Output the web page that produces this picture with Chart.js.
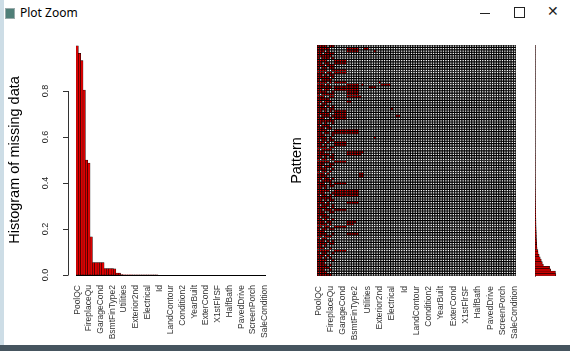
<!DOCTYPE html>
<html>
<head>
<meta charset="utf-8">
<script src="https://cdn.jsdelivr.net/npm/chart.js@4.4.1/dist/chart.umd.min.js"></script>
<style>
  body { margin: 0; width: 570px; height: 351px; overflow: hidden; background: #fff; position: relative; }
  canvas { position: absolute; }
  .bar-title { position: absolute; left: 20px; top: 4px; font: 12px "Noto Sans", sans-serif; color: #000; }
  .app-icon { position: absolute; left: 5px; top: 8px; width: 8px; height: 9px; background: #4f7f78; border: 1px solid #9aa; }
  .btn-min { position: absolute; left: 480px; top: 13px; width: 10px; height: 1px; background: #222; }
  .btn-max { position: absolute; left: 514px; top: 7px; width: 9px; height: 9px; border: 1px solid #222; }
  .btn-close { position: absolute; left: 547px; top: 3px; font: 14px "DejaVu Sans", sans-serif; color: #222; }
  .edge-left { position: absolute; left: 0; top: 0; width: 4px; height: 351px; background: #cddde6; }
  .edge-bottom { position: absolute; left: 0; top: 345px; width: 570px; height: 6px; background: #46555f; }
</style>
</head>
<body>
<div class="app-icon"></div>
<div class="bar-title">Plot Zoom</div>
<div class="btn-min"></div>
<div class="btn-max"></div>
<div class="btn-close">✕</div>

<canvas id="histChart" width="285" height="313" style="left:0;top:30px"></canvas>
<canvas id="patternChart" width="250" height="313" style="left:285px;top:30px"></canvas>
<canvas id="shareChart" width="50" height="313" style="left:520px;top:30px"></canvas>

<div class="edge-left"></div>
<div class="edge-bottom"></div>

<script>
// variables, sorted by share of missing values
const variables = [
  "PoolQC", "MiscFeature", "Alley", "Fence", "SalePrice", "FireplaceQu", "LotFrontage",
  "GarageYrBlt", "GarageFinish", "GarageQual", "GarageCond", "GarageType",
  "BsmtExposure", "BsmtCond", "BsmtQual", "BsmtFinType2", "BsmtFinType1",
  "MasVnrType", "MasVnrArea", "MSZoning", "Utilities", "Functional", "BsmtFullBath",
  "BsmtHalfBath", "Exterior1st", "Exterior2nd", "BsmtFinSF1", "BsmtFinSF2", "BsmtUnfSF",
  "TotalBsmtSF", "Electrical", "KitchenQual", "GarageCars", "GarageArea", "SaleType",
  "Id", "MSSubClass", "LotArea", "Street", "LotShape", "LandContour", "LotConfig",
  "LandSlope", "Neighborhood", "Condition1", "Condition2", "BldgType", "HouseStyle",
  "OverallQual", "OverallCond", "YearBuilt", "YearRemodAdd", "RoofStyle", "RoofMatl",
  "ExterQual", "ExterCond", "Foundation", "Heating", "HeatingQC", "CentralAir",
  "X1stFlrSF", "X2ndFlrSF", "LowQualFinSF", "GrLivArea", "FullBath", "HalfBath",
  "BedroomAbvGr", "KitchenAbvGr", "TotRmsAbvGrd", "Fireplaces", "PavedDrive",
  "WoodDeckSF", "OpenPorchSF", "EnclosedPorch", "X3SsnPorch", "ScreenPorch",
  "PoolArea", "MiscVal", "MoSold", "YrSold", "SaleCondition"
];

// share of missing values per variable
const missingShare = [
  0.9966, 0.9640, 0.9322, 0.8044, 0.4998, 0.4865, 0.1665,
  0.0545, 0.0545, 0.0545, 0.0545, 0.0538,
  0.0281, 0.0281, 0.0277, 0.0274, 0.0271,
  0.0082, 0.0079, 0.0014, 0.0007, 0.0007, 0.0007,
  0.0007, 0.0003, 0.0003, 0.0003, 0.0003, 0.0003,
  0.0003, 0.0003, 0.0003, 0.0003, 0.0003, 0.0003,
  0, 0, 0, 0, 0, 0, 0, 0, 0, 0, 0, 0, 0, 0, 0, 0, 0, 0, 0, 0, 0, 0, 0,
  0, 0, 0, 0, 0, 0, 0, 0, 0, 0, 0, 0, 0, 0, 0, 0, 0, 0, 0, 0, 0, 0, 0
];

const histTicks = ["0.0", "0.2", "0.4", "0.6", "0.8"];

// missing patterns, top to bottom; 1 = missing. groups split by "|", rest of columns present
const patternRows = [
  "1111011",
  "1111100|00000|11111|00|11000",
  "1110100|00000|11111|00|00001",
  "1101111",
  "1111110",
  "1011101",
  "1111000|11111",
  "1101100|11111",
  "1110111",
  "1011011",
  "1111001|11111",
  "1110110|11111",
  "1101011",
  "1111101",
  "1011110",
  "1111010|11111|00000|00|00000|010000",
  "1110100|00000|11111|01|00000|001111",
  "1111110|11111|11111|00|00111",
  "1101100|11111|11111",
  "1111001|00000|11111",
  "1011111|00000|11111",
  "1110011|00000|11111|10",
  "1111100",
  "1101110|00000|11000",
  "1011000",
  "1110101",
  "1111011|00000|00000|00|00000|000000|10000",
  "1101010|11111",
  "1111100|11111",
  "1011101|11111|00000|00|00000|000000|00110",
  "1110010|11111",
  "1111111",
  "1101001",
  "1011100",
  "1110110",
  "1111000|11111|11111",
  "1101101|11111|11111",
  "1110001",
  "1111010|00000|00000|00|00001",
  "1011011",
  "1110100|11111",
  "1101000|11111",
  "1111011",
  "1011110",
  "1110000|00000|11111|11",
  "1111101|00000|11111|10",
  "1101011",
  "1011001",
  "1111100|11111",
  "1110011",
  "1101110",
  "1111001",
  "1011010",
  "1110100|00000|00000|11",
  "1111000|00000|00000|11",
  "1101101",
  "1011110",
  "1110010|11111",
  "1111011",
  "1101000",
  "1111100|11111|11111",
  "1110001|11111|11111",
  "1011010|11111|11111",
  "1111110",
  "1101011",
  "1110100|00000|11111",
  "1011101",
  "1111001",
  "1101110|11111",
  "1110011",
  "1111000",
  "1011100",
  "1101001",
  "1110110|00000|11110",
  "1111010|00000|11100",
  "1101100|11111",
  "1011011",
  "1110000",
  "1111001|00000|11111",
  "1101110",
  "1011000",
  "1110101",
  "1111011",
  "1101000",
  "1110010",
  "1111100|11111",
  "1011001",
  "1110100",
  "1101010",
  "1111001",
  "1110000",
  "1111010",
  "1111100",
  "1110010",
  "1111000",
  "1111110"
];

// share of rows having each pattern
const patternShare = [
  0.0003, 0.0003, 0.0003, 0.0003, 0.0003, 0.0003, 0.0003, 0.0003, 0.0003, 0.0003,
  0.0003, 0.0003, 0.0003, 0.0003, 0.0003, 0.0003, 0.0003, 0.0003, 0.0003, 0.0003,
  0.0003, 0.0003, 0.0003, 0.0003, 0.0003, 0.0003, 0.0003, 0.0003, 0.0003, 0.0003,
  0.0003, 0.0003, 0.0003, 0.0003, 0.0003, 0.0003, 0.0003, 0.0003, 0.0003, 0.0003,
  0.0003, 0.0003, 0.0003, 0.0003, 0.0003, 0.0007, 0.0007, 0.0007, 0.0007, 0.0007,
  0.0007, 0.0007, 0.0007, 0.0007, 0.0007, 0.0010, 0.0010, 0.0010, 0.0010, 0.0014,
  0.0014, 0.0014, 0.0017, 0.0017, 0.0021, 0.0021, 0.0024, 0.0027, 0.0031, 0.0034,
  0.0038, 0.0041, 0.0045, 0.0048, 0.0051, 0.0055, 0.0058, 0.0062, 0.0065, 0.0069,
  0.0072, 0.0075, 0.0082, 0.0089, 0.0100, 0.0140, 0.0150, 0.0200, 0.0250, 0.0300,
  0.0350, 0.0400, 0.0700, 0.0750, 0.0980, 0.1000
];

const labelFont = { family: "Liberation Sans", size: 8.5 };
const everyFifth = (v, i) => (i % 5 === 0 ? variables[i] : "");

// R style y axis + title for the histogram
const rAxis = {
  id: "rAxis",
  afterDraw(chart) {
    const y = chart.scales.y, ctx = chart.ctx;
    const x0 = chart.chartArea.left - 8;
    ctx.save();
    ctx.strokeStyle = "#333";
    ctx.lineWidth = 1;
    ctx.beginPath();
    ctx.moveTo(x0 + 0.5, y.getPixelForValue(0));
    ctx.lineTo(x0 + 0.5, y.getPixelForValue(0.8));
    histTicks.forEach(t => {
      const py = Math.round(y.getPixelForValue(+t)) + 0.5;
      ctx.moveTo(x0 + 0.5, py);
      ctx.lineTo(x0 - 5, py);
    });
    ctx.stroke();
    ctx.fillStyle = "#222";
    ctx.font = '9px "Liberation Sans"';
    ctx.textAlign = "center";
    ctx.textBaseline = "middle";
    histTicks.forEach(t => {
      ctx.save();
      ctx.translate(x0 - 22, y.getPixelForValue(+t));
      ctx.rotate(-Math.PI / 2);
      ctx.fillText(t, 0, 0);
      ctx.restore();
    });
    ctx.translate(15, (chart.chartArea.top + chart.chartArea.bottom) / 2);
    ctx.rotate(-Math.PI / 2);
    ctx.fillStyle = "#000";
    ctx.font = '14.5px "Liberation Sans"';
    ctx.fillText("Histogram of missing data", 0, 0);
    ctx.restore();
  }
};

const patternTitle = {
  id: "patternTitle",
  afterDraw(chart) {
    const ctx = chart.ctx;
    ctx.save();
    ctx.translate(12, (chart.chartArea.top + chart.chartArea.bottom) / 2);
    ctx.rotate(-Math.PI / 2);
    ctx.fillStyle = "#000";
    ctx.font = '14.5px "Liberation Sans"';
    ctx.textAlign = "center";
    ctx.textBaseline = "middle";
    ctx.fillText("Pattern", 0, 0);
    ctx.restore();
  }
};

// histogram of missing data
new Chart(document.getElementById("histChart"), {
  type: "bar",
  data: {
    labels: variables,
    datasets: [{
      data: missingShare,
      backgroundColor: "#e00000",
      borderColor: "#000",
      borderWidth: 0.5,
      borderSkipped: false,
      barPercentage: 1,
      categoryPercentage: 1
    }]
  },
  options: {
    responsive: false,
    animation: false,
    layout: { padding: { left: 76, top: 15, right: 18, bottom: 0 } },
    plugins: { legend: { display: false }, tooltip: { enabled: false } },
    scales: {
      x: {
        grid: { display: false, drawTicks: false },
        border: { display: true, color: "#000", width: 1 },
        ticks: { autoSkip: false, minRotation: 90, maxRotation: 90, padding: 10, font: labelFont, color: "#333", callback: everyFifth },
        afterFit(s) { s.height = 68; }
      },
      y: { display: false, min: 0, max: 1 }
    }
  },
  plugins: [rAxis]
});

// pattern grid
new Chart(document.getElementById("patternChart"), {
  type: "bar",
  data: {
    labels: variables,
    datasets: patternRows.map(row => {
      const cells = row.replace(/\|/g, "").padEnd(variables.length, "0").split("");
      return {
        data: cells.map(() => 1),
        backgroundColor: cells.map(c => (c === "1" ? "#ff0000" : "#ffffff")),
        borderColor: "#000",
        borderWidth: 0.9,
        borderSkipped: false,
        barPercentage: 1,
        categoryPercentage: 1
      };
    })
  },
  options: {
    responsive: false,
    animation: false,
    layout: { padding: { left: 32, top: 15, right: 10, bottom: 0 } },
    plugins: { legend: { display: false }, tooltip: { enabled: false } },
    scales: {
      x: {
        stacked: true,
        grid: { display: false, drawTicks: false },
        border: { display: false },
        ticks: { autoSkip: false, minRotation: 90, maxRotation: 90, padding: 10, font: labelFont, color: "#333", callback: everyFifth },
        afterFit(s) { s.height = 67; }
      },
      y: { display: false, stacked: true, reverse: true, min: 0, max: patternRows.length }
    }
  },
  plugins: [patternTitle]
});

// share of each pattern
new Chart(document.getElementById("shareChart"), {
  type: "bar",
  data: {
    labels: patternRows.map((r, i) => i),
    datasets: [{
      data: patternShare,
      backgroundColor: "#c80000",
      borderColor: "#000",
      borderWidth: 0.5,
      borderSkipped: false,
      barPercentage: 1,
      categoryPercentage: 1
    }]
  },
  options: {
    indexAxis: "y",
    responsive: false,
    animation: false,
    layout: { padding: { left: 15, top: 15, right: 10, bottom: 67 } },
    plugins: { legend: { display: false }, tooltip: { enabled: false } },
    scales: {
      x: { display: false, min: 0, max: 0.12 },
      y: {
        grid: { display: false, drawTicks: false },
        ticks: { display: false },
        border: { display: true, color: "#777", width: 1 }
      }
    }
  }
});
</script>
</body>
</html>
